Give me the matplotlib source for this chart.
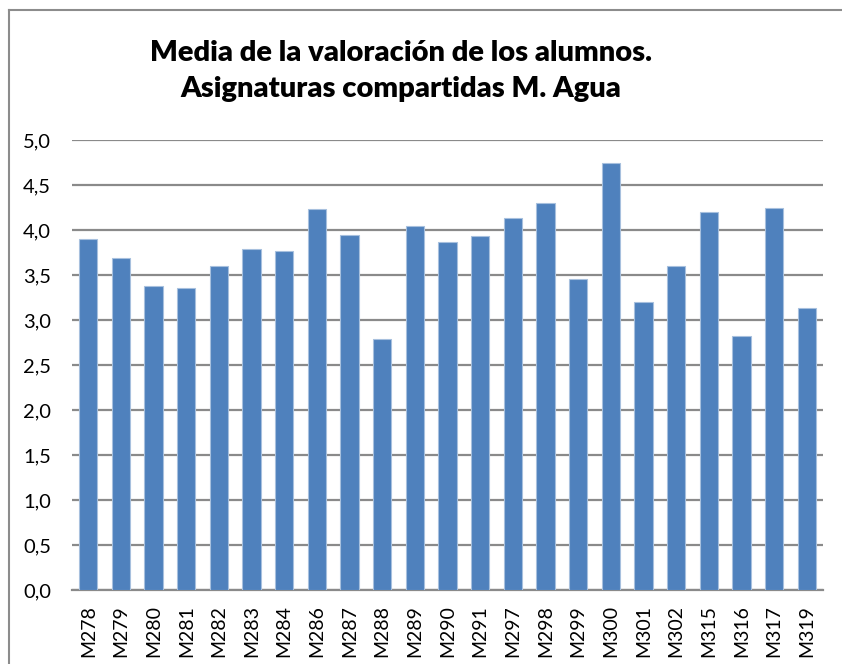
import matplotlib.pyplot as plt
from matplotlib.lines import Line2D
from matplotlib.ticker import FuncFormatter

asignaturas = ["M278", "M279", "M280", "M281", "M282", "M283", "M284", "M286",
               "M287", "M288", "M289", "M290", "M291", "M297", "M298", "M299",
               "M300", "M301", "M302", "M315", "M316", "M317", "M319"]
media = [3.90, 3.69, 3.38, 3.36, 3.60, 3.79, 3.77, 4.23,
         3.94, 2.79, 4.04, 3.87, 3.93, 4.13, 4.30, 3.46,
         4.74, 3.20, 3.60, 4.20, 2.82, 4.24, 3.13]
ticks_y = [0, 0.5, 1, 1.5, 2, 2.5, 3, 3.5, 4, 4.5, 5]

W, H = 842, 664
plt.rcParams["font.family"] = ["Lato", "DejaVu Sans"]
fig = plt.figure(figsize=(W / 100, H / 100), dpi=100)

# marco del grafico (solo arriba e izquierda, el resto queda fuera)
top = 1 - 10 / H
left = 8.5 / W
fig.add_artist(Line2D([left, 1], [top, top], transform=fig.transFigure,
                      color="#8c8c8c", linewidth=1.5))
fig.add_artist(Line2D([left, left], [0, top], transform=fig.transFigure,
                      color="#8c8c8c", linewidth=1.5))

ax = fig.add_axes([72 / W, (H - 590) / H, (823 - 72) / W, 450 / H])
x = range(len(asignaturas))
ax.bar(x, media, width=0.56, color="#4F81BD", edgecolor="#a7c0de",
       linewidth=0.8, zorder=3)
ax.set_xlim(-0.5, len(asignaturas) - 0.5)
ax.set_ylim(0, 5)
ax.set_yticks(ticks_y)
ax.yaxis.set_major_formatter(FuncFormatter(lambda v, p: f"{v:.1f}".replace(".", ",")))
ax.set_xticks(list(x))
ax.set_xticklabels(asignaturas, rotation=90, fontsize=14)
ax.tick_params(axis="y", labelsize=14.5, length=0, pad=15)
ax.tick_params(axis="x", length=0, pad=11)
ax.yaxis.grid(True, color="#8a8a8a", linewidth=1.6, zorder=0)
for s in ["top", "right", "left"]:
    ax.spines[s].set_visible(False)
ax.spines["bottom"].set_color("#8a8a8a")
ax.spines["bottom"].set_linewidth(1.6)

fig.text(401 / W, 1 - 71 / H, "Media de la valoración de los alumnos.\nAsignaturas compartidas M. Agua",
         ha="center", va="center", fontsize=21, fontweight="heavy",
         linespacing=1.45)

fig.savefig("out.png", dpi=100)
